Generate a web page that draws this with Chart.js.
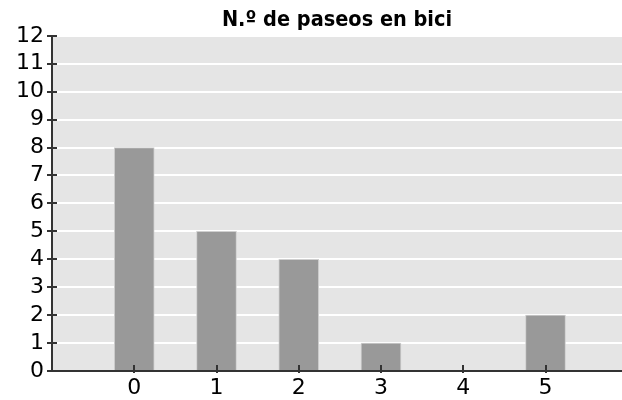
<!DOCTYPE html>
<html>
<head>
<meta charset="utf-8">
<script src="https://cdn.jsdelivr.net/npm/chart.js@4"></script>
<style>
  html, body { margin: 0; padding: 0; background: #fff; }
  #wrap { width: 622px; height: 400px; }
</style>
</head>
<body>
<div id="wrap"><canvas id="paseosChart" width="622" height="400"></canvas></div>
<script>
const categories = [0, 1, 2, 3, 4, 5];
const rides = [8, 5, 4, 1, 0, 2];
const yMax = 12;

const FONT = 'DejaVu Sans';

// grey plot area behind the grid
const plotBackground = {
  id: 'plotBackground',
  beforeDraw(chart) {
    const { ctx, chartArea: a } = chart;
    ctx.save();
    ctx.fillStyle = '#e5e5e5';
    ctx.fillRect(a.left, a.top, a.right - a.left, a.bottom - a.top);
    ctx.restore();
  }
};

// small tick marks crossing both axis lines
const crossTicks = {
  id: 'crossTicks',
  afterDraw(chart) {
    const { ctx, chartArea: a, scales } = chart;
    ctx.save();
    ctx.strokeStyle = '#333';
    ctx.lineWidth = 2;
    ctx.beginPath();
    scales.y.ticks.forEach(t => {
      const y = Math.round(scales.y.getPixelForValue(t.value));
      ctx.moveTo(a.left - 5, y);
      ctx.lineTo(a.left + 5, y);
    });
    scales.x.ticks.forEach(t => {
      const x = Math.round(scales.x.getPixelForValue(t.value));
      ctx.moveTo(x, a.bottom - 6);
      ctx.lineTo(x, a.bottom + 2);
    });
    ctx.stroke();
    ctx.restore();
  }
};

const ctx = document.getElementById('paseosChart').getContext('2d');

const paseosChart = new Chart(ctx, {
  type: 'bar',
  data: {
    datasets: [{
      label: 'N.º de paseos en bici',
      data: categories.map((c, i) => ({ x: c, y: rides[i] })),
      backgroundColor: '#999999',
      borderColor: '#cfcfcf',
      borderWidth: 1,
      barThickness: 40
    }]
  },
  options: {
    responsive: false,
    animation: false,
    layout: { padding: 0 },
    plugins: {
      legend: { display: false },
      tooltip: { enabled: false },
      title: {
        display: true,
        fullSize: false,
        text: 'N.º de paseos en bici',
        color: '#000',
        font: { family: 'DejaVu Sans Condensed', size: 21.5, weight: 'bold', lineHeight: 1.2 },
        padding: { top: 8, bottom: 2 }
      }
    },
    scales: {
      x: {
        type: 'linear',
        offset: false,
        min: -1,
        max: 5.93,
        afterBuildTicks: scale => {
          scale.ticks = categories.map(v => ({ value: v }));
        },
        afterFit: scale => { scale.height = 29; },
        ticks: {
          color: '#000',
          font: { family: FONT, size: 22 },
          padding: 4,
          maxRotation: 0
        },
        grid: { drawOnChartArea: false, drawTicks: false },
        border: { display: true, color: '#333', width: 2 }
      },
      y: {
        min: 0,
        max: yMax,
        afterFit: scale => { scale.width = 52; },
        ticks: {
          stepSize: 1,
          autoSkip: false,
          color: '#000',
          font: { family: FONT, size: 22 },
          padding: 8
        },
        grid: { color: '#ffffff', lineWidth: 2, drawTicks: false },
        border: { display: true, color: '#333', width: 2 }
      }
    }
  },
  plugins: [plotBackground, crossTicks]
});
</script>
</body>
</html>
